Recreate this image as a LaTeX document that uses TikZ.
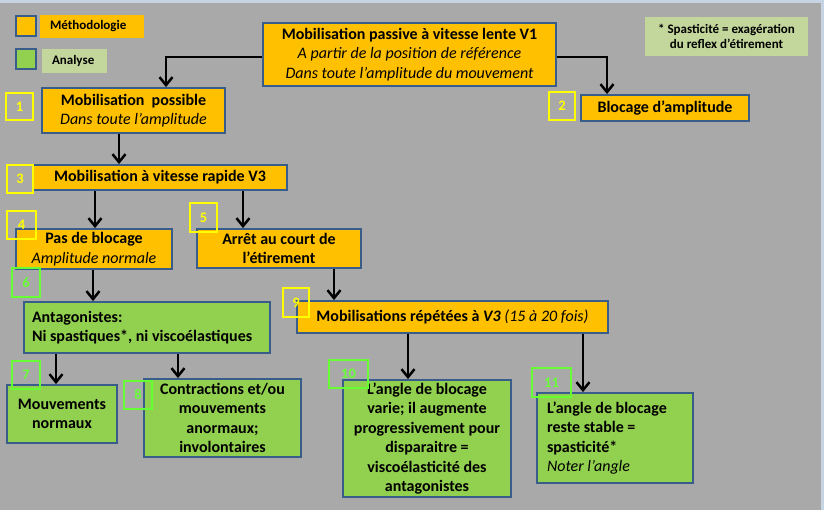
\documentclass[tikz,border=0pt]{standalone}
\usepackage{fontspec}
\setmainfont{Carlito}
\usetikzlibrary{arrows.meta}
\definecolor{bgray}{HTML}{A9A9A9}
\definecolor{topstrip}{HTML}{C6D4E4}
\definecolor{orng}{HTML}{FFC000}
\definecolor{grn}{HTML}{92D050}
\definecolor{lgrn}{HTML}{C3D69B}
\definecolor{bord}{HTML}{385D8A}
\definecolor{ylw}{HTML}{FFFF00}
\definecolor{numgrn}{HTML}{66FF33}
\tikzset{
  boxbase/.style={draw=bord, line width=1.8pt, inner sep=0pt, align=center,
    font=\fontsize{16}{19.5}\selectfont\bfseries},
  obox/.style={boxbase, fill=orng},
  gbox/.style={boxbase, fill=grn},
  numbase/.style={line width=2pt, inner sep=0pt,
    font=\fontsize{14.5}{16}\selectfont\bfseries},
  ynum/.style={numbase, draw=ylw, text=ylw},
  gnum/.style={numbase, draw=numgrn, text=numgrn},
  arr/.style={line width=2.5pt, -{Straight Barb[length=8pt,width=13pt]}},
  legtxt/.style={inner ysep=0pt, align=flush left, font=\fontsize{13}{15.5}\selectfont\bfseries}
}
\begin{document}
\begin{tikzpicture}[x=1pt,y=-1pt]
\useasboundingbox (0,0) rectangle (824,510);
\fill[bgray] (0,0) rectangle (824,510);
\fill[topstrip] (0,0) rectangle (824,3);
\fill[topstrip] (821,0) rectangle (824,510);

% legend
\node[draw=bord, line width=1.8pt, fill=orng, minimum width=20pt, minimum height=20pt, inner sep=0pt] (lsqo) at (26,26) {};
\node[legtxt, fill=orng, text width=84pt, inner xsep=10pt, minimum height=23pt] (lto) at (92,26.5) {Méthodologie};
\node[draw=bord, line width=1.8pt, fill=grn, minimum width=20pt, minimum height=20pt, inner sep=0pt] (lsqg) at (26,59) {};
\node[legtxt, fill=lgrn, text width=45pt, inner xsep=10pt, minimum height=24pt] (ltg) at (74.5,61) {Analyse};
\node[legtxt, align=center, fill=lgrn, minimum width=163pt, minimum height=39pt, inner xsep=0pt] (note) at (726.5,36.5) {* Spasticité = exagération\\du reflex d’étirement};

% boxes
\node[obox, minimum width=293pt, minimum height=63pt] (v1) at (409.5,54.5)
  {Mobilisation passive à vitesse lente V1\\ \mdseries\itshape A partir de la position de référence\\ \mdseries\itshape Dans toute l’amplitude du mouvement};
\node[obox, minimum width=183pt, minimum height=45pt] (b1) at (133.5,110.5)
  {Mobilisation\ \ possible\\ \mdseries\itshape Dans toute l’amplitude};
\node[obox, minimum width=168pt, minimum height=26pt] (b2) at (665,108) {Blocage d’amplitude};
\node[obox, minimum width=254pt, minimum height=25pt] (b3) at (160,177.5) {Mobilisation à vitesse rapide V3};
\node[obox, minimum width=156pt, minimum height=40pt] (b4) at (94,249)
  {Pas de blocage\\ \mdseries\itshape Amplitude normale};
\node[obox, minimum width=164pt, minimum height=39pt] (b5) at (279,248.5)
  {Arrêt au court de\\l’étirement};
\node[gbox, align=flush left, text width=230pt, inner xsep=8pt, minimum height=51pt] (b6) at (147,327.5)
  {Antagonistes:\\Ni spastiques*, ni viscoélastiques};
\node[gbox, minimum width=110pt, minimum height=58pt] (b7) at (62,414) {Mouvements\\normaux};
\node[gbox, minimum width=157pt, minimum height=78pt] (b8) at (222.5,418)
  {Contractions et/ou\\mouvements\\anormaux;\\involontaires};
\node[obox, minimum width=311pt, minimum height=32pt] (b9) at (452.5,317)
  {Mobilisations répétées à \textit{V3} {\mdseries\itshape (15 à 20 fois)}};
\node[gbox, minimum width=168pt, minimum height=117pt] (b10) at (427,438.5)
  {L’angle de blocage\\varie; il augmente\\progressivement pour\\disparaitre =\\viscoélasticité des\\antagonistes};
\node[gbox, align=flush left, text width=136pt, inner xsep=10pt, minimum height=90pt] (b11) at (615,438)
  {L’angle de blocage\\reste stable =\\spasticité*\\ \mdseries\itshape Noter l’angle};

% connectors
\draw[arr] ([yshift=-2.5pt]v1.west) -| ([xshift=32.5pt]b1.north);
\draw[arr] ([yshift=-2.5pt]v1.east) -| ([xshift=-58pt]b2.north);
\draw[arr] (b1.south -| 119,0) -- (b3.north -| 119,0);
\draw[arr] (b3.south -| 95,0) -- (b4.north -| 95,0);
\draw[arr] (b3.south -| 243,0) -- (b5.north -| 243,0);
\draw[arr] (b4.south -| 93,0) -- (b6.north -| 93,0);
\draw[arr] (b5.south -| 334,0) -- (b9.north -| 334,0);
\draw[arr] (b6.south -| 56,0) -- (b7.north -| 56,0);
\draw[arr] (b6.south -| 178,0) -- (b8.north -| 178,0);
\draw[arr] (b9.south -| 408,0) -- (b10.north -| 408,0);
\draw[arr] (b9.south -| 583,0) -- (b11.north -| 583,0);

% number labels
\node[ynum, minimum width=27pt, minimum height=27pt] (n1) at (19.5,106.5) {1};
\node[ynum, minimum width=26pt, minimum height=28pt] (n2) at (562,106) {2};
\node[ynum, minimum width=26pt, minimum height=28pt] (n3) at (20,179) {3};
\node[ynum, minimum width=29pt, minimum height=28pt] (n4) at (21.5,225) {4};
\node[ynum, minimum width=27pt, minimum height=29pt] (n5) at (203.5,217.5) {5};
\node[gnum, minimum width=28pt, minimum height=29pt] (n6) at (26,282.5) {6};
\node[gnum, minimum width=28pt, minimum height=28pt] (n7) at (26,375) {7};
\node[gnum, minimum width=28pt, minimum height=28pt] (n8) at (138,395) {8};
\node[ynum, minimum width=26pt, minimum height=29pt] (n9) at (296,302.5) {9};
\node[gnum, minimum width=39pt, minimum height=28pt] (n10) at (348.5,374) {10};
\node[gnum, minimum width=39pt, minimum height=29pt] (n11) at (551.5,382.5) {11};
\end{tikzpicture}
\end{document}
